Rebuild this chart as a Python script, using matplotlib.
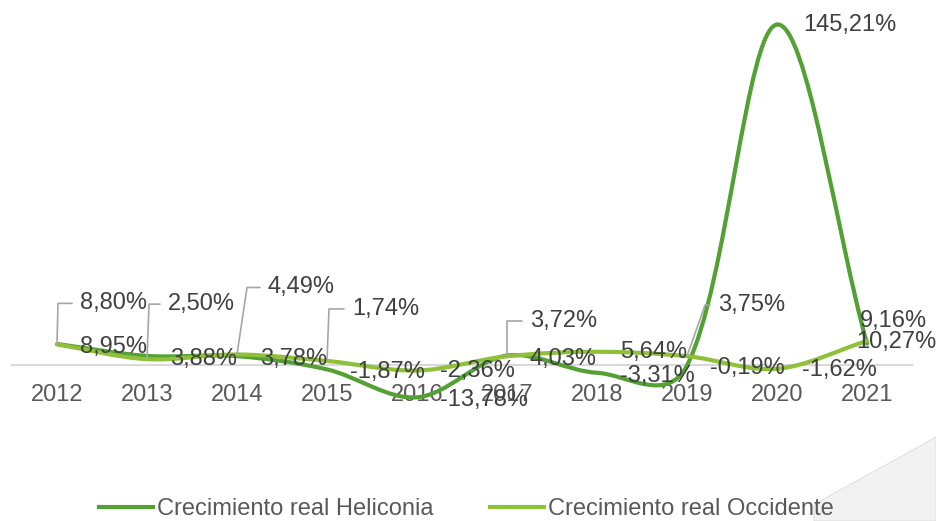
import numpy as np
import matplotlib
matplotlib.use("Agg")
import matplotlib.pyplot as plt
from matplotlib.path import Path
from matplotlib.patches import PathPatch, Polygon

plt.rcParams['font.family'] = ['Liberation Sans', 'DejaVu Sans']

# datos
years = ['2012', '2013', '2014', '2015', '2016', '2017', '2018', '2019', '2020', '2021']
heliconia = [8.95, 3.88, 3.78, -1.87, -13.78, 4.03, -3.31, -0.19, 145.21, 9.16]
occidente = [8.80, 2.50, 4.49, 1.74, -2.36, 3.72, 5.64, 3.75, -1.62, 10.27]

c_hel = '#53a033'
c_occ = '#8fc03a'
txt_c = '#404040'
axis_c = '#595959'


def smooth_path(ax, ys):
    # curva suavizada tipo Excel: Bezier calculada en pixeles,
    # tangentes ponderadas por la longitud de cada tramo
    pts = ax.transData.transform(np.column_stack([np.arange(len(ys)), ys]))
    ext = np.vstack([pts[:1], pts, pts[-1:]])
    ctrl_in, ctrl_out = [], []
    for i in range(len(ys)):
        p0, p1, p2 = ext[i], ext[i + 1], ext[i + 2]
        d0 = np.sqrt(np.hypot(*(p1 - p0)))
        d1 = np.sqrt(np.hypot(*(p2 - p1)))
        tan = (p2 - p0) / 3
        tot = d0 + d1 if d0 + d1 > 0 else 1
        ctrl_in.append(p1 - tan * d0 / tot)
        ctrl_out.append(p1 + tan * d1 / tot)
    verts = [pts[0]]
    codes = [Path.MOVETO]
    for i in range(len(ys) - 1):
        verts += [ctrl_out[i], ctrl_in[i + 1], pts[i + 1]]
        codes += [Path.CURVE4] * 3
    verts = ax.transData.inverted().transform(np.array(verts))
    return Path(verts, codes)


fig = plt.figure(figsize=(9.36, 5.21), dpi=100)
ax = fig.add_axes([12 / 936, 0.2094, 900 / 936, 0.7651])
ax.set_xlim(-0.5, 9.5)
ax.set_ylim(-20, 150)

ax.add_patch(PathPatch(smooth_path(ax, heliconia), fill=False, edgecolor=c_hel, lw=3,
                       capstyle='round', joinstyle='round', zorder=3))
ax.add_patch(PathPatch(smooth_path(ax, occidente), fill=False, edgecolor=c_occ, lw=3,
                       capstyle='round', joinstyle='round', zorder=4))

for s in ['left', 'right', 'top']:
    ax.spines[s].set_visible(False)
ax.spines['bottom'].set_position(('data', 0))
ax.spines['bottom'].set_color('#d9d9d9')
ax.spines['bottom'].set_linewidth(1.5)
ax.set_yticks([])
ax.set_xticks(range(len(years)), years)
ax.tick_params(axis='x', length=0, labelsize=17, labelcolor=axis_c, pad=14)


def fmt(v):
    return f"{v:.2f}".replace('.', ',') + '%'


# etiquetas Heliconia (a la derecha del punto)
hel_off = {i: (23, -3) for i in range(len(years))}
hel_off[8] = (26, 0)
hel_off[9] = (-7, 23)
for i, v in enumerate(heliconia):
    dx, dy = hel_off[i]
    ax.annotate(fmt(v), (i, v), xytext=(dx, dy), textcoords='offset pixels',
                ha='left', va='center', fontsize=17, color=txt_c, zorder=6,
                annotation_clip=False)

# etiquetas Occidente: (dx, dy, esquina de la guia o None)
occ_off = {
    0: (23, 41, 1), 1: (21, 55, 2), 2: (31, 67, 10), 3: (25, 52, 2),
    4: (23, 0, None), 5: (23, 35, 0), 6: (23, 0, None), 7: (31, 51, 18),
    8: (25, -1, None), 9: (-11, -1, None),
}
for i, v in enumerate(occidente):
    dx, dy, cx = occ_off[i]
    ax.annotate(fmt(v), (i, v), xytext=(dx, dy), textcoords='offset pixels',
                ha='left', va='center', fontsize=17, color=txt_c, zorder=6,
                annotation_clip=False)
    if cx is not None:
        ang = np.degrees(np.arctan2(dy, cx))
        ax.annotate('', (i, v), xytext=(dx - 8, dy), textcoords='offset pixels',
                    arrowprops=dict(arrowstyle='-', color='#a6a6a6', lw=1.2,
                                    shrinkA=0, shrinkB=0,
                                    connectionstyle=f'angle,angleA=0,angleB={ang:.1f},rad=0'),
                    zorder=5, annotation_clip=False)

# leyenda
ax.plot([], [], color=c_hel, lw=3, label='Crecimiento real Heliconia')
ax.plot([], [], color=c_occ, lw=3, label='Crecimiento real Occidente')
fig.legend(loc='center', bbox_to_anchor=(466 / 936, 1 - 509 / 521), ncol=2,
           frameon=False, fontsize=17, labelcolor=axis_c, handlelength=2.3,
           handletextpad=0.15, columnspacing=2.4)

# forma gris de fondo (esquina inferior derecha)
pts = [(814, 521), (814, 505), (822, 500), (860, 479), (900, 457), (936, 437), (936, 521)]
fig.patches.append(Polygon([(x / 936, 1 - y / 521) for x, y in pts], closed=True,
                           transform=fig.transFigure, facecolor='#f2f2f2',
                           edgecolor='#d6d6d6', lw=0.5, zorder=0))

fig.savefig('out.png', dpi=100)
